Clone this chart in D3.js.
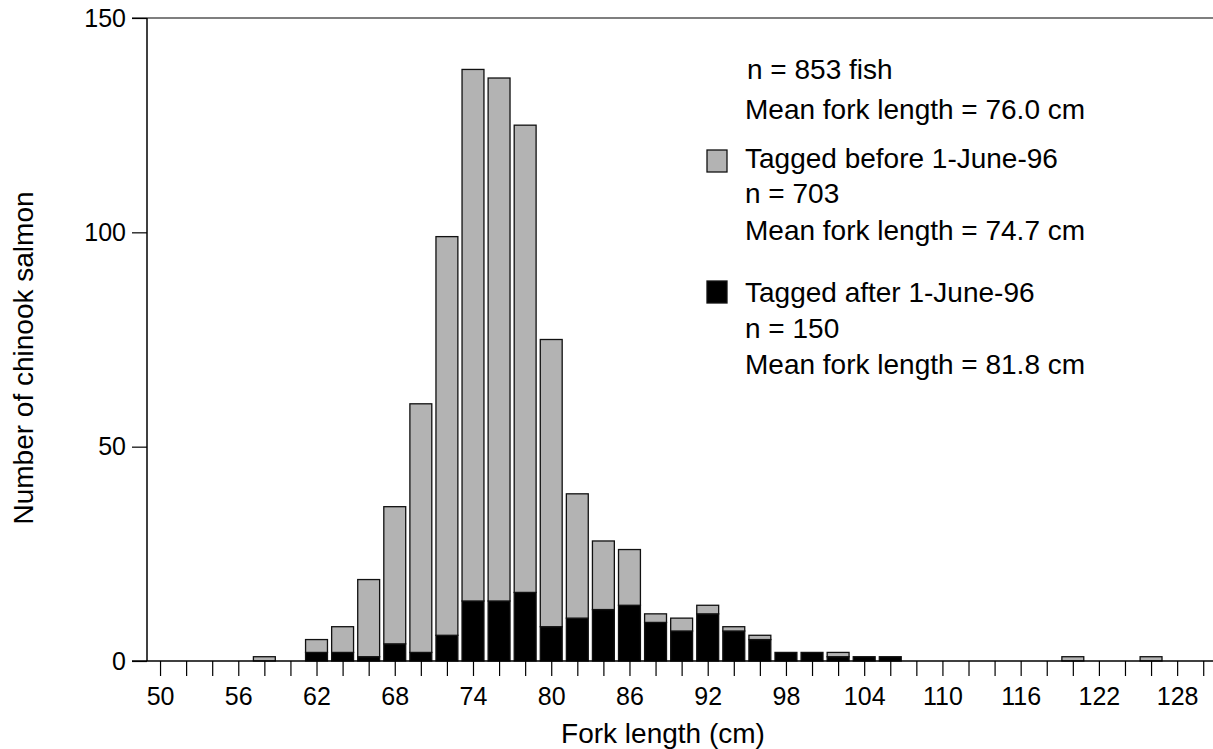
<!DOCTYPE html>
<html>
<head>
<meta charset="utf-8">
<script src="https://cdn.jsdelivr.net/npm/d3@7"></script>
<style>
  html, body { margin: 0; padding: 0; background: #fff; }
  svg { display: block; font-family: "Liberation Sans", Arial, Helvetica, sans-serif; }
</style>
</head>
<body>
<svg id="chart" width="1213" height="749"></svg>
<script>
// Fork length bin centres (cm)
const lengths = [58, 62, 64, 66, 68, 70, 72, 74, 76, 78, 80, 82, 84, 86, 88, 90, 92, 94, 96, 98, 100, 102, 104, 106, 120, 126];
// Tagged after 1-June-96 (black)
const afterCounts = [0, 2, 2, 1, 4, 2, 6, 14, 14, 16, 8, 10, 12, 13, 9, 7, 11, 7, 5, 2, 2, 1, 1, 1, 0, 0];
// Tagged before 1-June-96 (grey)
const beforeCounts = [1, 3, 6, 18, 32, 58, 93, 124, 122, 109, 67, 29, 16, 13, 2, 3, 2, 1, 1, 0, 0, 1, 0, 0, 1, 1];
// Axis ticks
const xTickValues = d3.range(50, 131, 2);
const xTickLabels = [50, 56, 62, 68, 74, 80, 86, 92, 98, 104, 110, 116, 122, 128];
const yTickValues = [0, 50, 100, 150];
// Legend text
const legendLines = [
  { text: "n = 853 fish", dx: 2, y: 79 },
  { text: "Mean fork length = 76.0 cm", dx: 0, y: 119 },
  { text: "Tagged before 1-June-96", dx: 0, y: 168 },
  { text: "n = 703", dx: 0, y: 203 },
  { text: "Mean fork length = 74.7 cm", dx: 0, y: 240 },
  { text: "Tagged after 1-June-96", dx: 0, y: 302 },
  { text: "n = 150", dx: 0, y: 338 },
  { text: "Mean fork length = 81.8 cm", dx: 0, y: 374 }
];
const legendSwatches = [
  { fill: "#b3b3b3", y: 150 },
  { fill: "#000000", y: 281 }
];

const svg = d3.select("#chart");
const plotLeft = 147, plotRight = 1213, plotTop = 18, plotBottom = 661;

const x = d3.scaleLinear().domain([49, 130.75]).range([plotLeft, plotRight]);
const y = d3.scaleLinear().domain([0, 150]).range([plotBottom, plotTop]);

const rows = lengths.map((L, i) => ({ L, after: afterCounts[i], before: beforeCounts[i] }));
const stacked = d3.stack().keys(["after", "before"])(rows);

const halfW = 0.84;
const colors = { after: "#000000", before: "#b3b3b3" };

// Bars
const g = svg.append("g");
stacked.forEach(layer => {
  g.selectAll(null)
    .data(layer.filter(d => d[1] - d[0] > 0))
    .enter().append("rect")
    .attr("x", d => x(d.data.L - halfW))
    .attr("width", d => x(d.data.L + halfW) - x(d.data.L - halfW))
    .attr("y", d => y(d[1]))
    .attr("height", d => y(d[0]) - y(d[1]))
    .attr("fill", colors[layer.key])
    .attr("stroke", "#111")
    .attr("stroke-width", 1.3);
});

// X axis
const xAxis = d3.axisBottom(x)
  .tickValues(xTickValues)
  .tickSize(15)
  .tickFormat(d => xTickLabels.includes(d) ? d : "");
const xg = svg.append("g").attr("transform", `translate(0,${plotBottom})`).call(xAxis);
xg.select(".domain").remove();
xg.selectAll(".tick line").attr("stroke", "#000").attr("stroke-width", 1.2);
xg.selectAll(".tick text").attr("font-size", 25).attr("fill", "#000").attr("dy", "1.05em").attr("font-family", null);

// baseline & top line
svg.append("line").attr("x1", 132).attr("x2", plotRight).attr("y1", plotBottom).attr("y2", plotBottom)
  .attr("stroke", "#000").attr("stroke-width", 1.5);
svg.append("line").attr("x1", 132).attr("x2", plotRight).attr("y1", plotTop).attr("y2", plotTop)
  .attr("stroke", "#555").attr("stroke-width", 1.5);

// Y axis
const yAxis = d3.axisLeft(y).tickValues(yTickValues).tickSize(15).tickPadding(6);
const yg = svg.append("g").attr("transform", `translate(${plotLeft},0)`).call(yAxis);
yg.select(".domain").attr("stroke", "#000").attr("stroke-width", 1.5).attr("d", `M0,${plotTop}V${plotBottom}`);
yg.selectAll(".tick line").attr("stroke", "#000").attr("stroke-width", 1.2);
yg.selectAll(".tick text").attr("font-size", 25).attr("fill", "#000").attr("font-family", null);

// Axis titles
svg.append("text")
  .attr("x", 663).attr("y", 743)
  .attr("text-anchor", "middle")
  .attr("font-size", 28)
  .text("Fork length (cm)");
svg.append("text")
  .attr("transform", "translate(33,358) rotate(-90)")
  .attr("text-anchor", "middle")
  .attr("font-size", 28)
  .text("Number of chinook salmon");

// Legend
const lg = svg.append("g");
lg.selectAll("rect").data(legendSwatches).enter().append("rect")
  .attr("x", 707).attr("y", d => d.y).attr("width", 20).attr("height", 22)
  .attr("fill", d => d.fill).attr("stroke", "#111").attr("stroke-width", 1.3);
lg.selectAll("text").data(legendLines).enter().append("text")
  .attr("x", d => 745 + d.dx).attr("y", d => d.y)
  .attr("font-size", 28)
  .attr("fill", "#000")
  .text(d => d.text);
</script>
</body>
</html>
